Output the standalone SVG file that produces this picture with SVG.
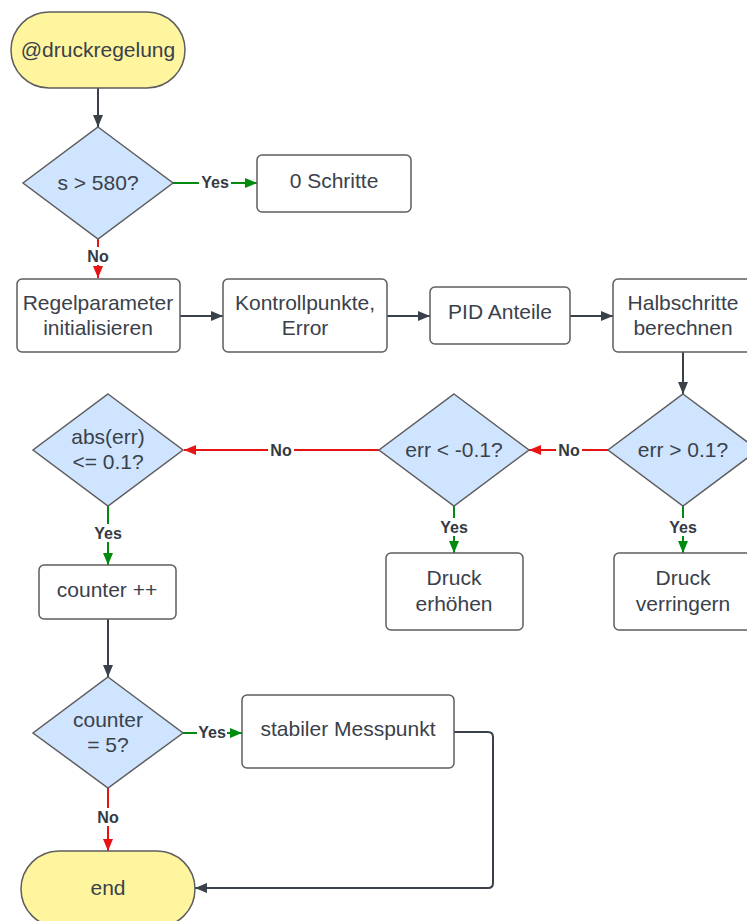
<svg xmlns="http://www.w3.org/2000/svg" width="747" height="921" viewBox="0 0 747 921">
<style>
.term{fill:#fff59f;stroke:#5e5e5e;stroke-width:1.5}
.dec{fill:#cfe4ff;stroke:#5e5e5e;stroke-width:1.5}
.box{fill:#ffffff;stroke:#5e5e5e;stroke-width:1.5}
.t{font-family:"Liberation Sans",Arial,sans-serif;font-size:21px;fill:#3a414a;text-anchor:middle}
.lbl{font-family:"Liberation Sans",Arial,sans-serif;font-size:16px;font-weight:bold;fill:#333a44;text-anchor:middle}
.c{fill:none;stroke:#3a414a;stroke-width:2}
.g{fill:none;stroke:#008a0e;stroke-width:2}
.r{fill:none;stroke:#e81313;stroke-width:2}
.bg{fill:#ffffff}
</style>
<defs>
<marker id="ad" markerWidth="12" markerHeight="10" refX="12" refY="5" orient="auto" markerUnits="userSpaceOnUse"><path d="M0,0 L12,5 L0,10 Z" fill="#3a414a"/></marker>
<marker id="ag" markerWidth="12" markerHeight="10" refX="12" refY="5" orient="auto" markerUnits="userSpaceOnUse"><path d="M0,0 L12,5 L0,10 Z" fill="#008a0e"/></marker>
<marker id="ar" markerWidth="12" markerHeight="10" refX="12" refY="5" orient="auto" markerUnits="userSpaceOnUse"><path d="M0,0 L12,5 L0,10 Z" fill="#e81313"/></marker>
</defs>
<rect width="747" height="921" fill="#ffffff"/>
<g id="connectors">
<path class="c" d="M98,88 V127" marker-end="url(#ad)"/>
<path class="g" d="M173,183 H257" marker-end="url(#ag)"/>
<path class="r" d="M98,239 V278" marker-end="url(#ar)"/>
<path class="c" d="M180,316 H223" marker-end="url(#ad)"/>
<path class="c" d="M387,316 H430" marker-end="url(#ad)"/>
<path class="c" d="M570,316 H613" marker-end="url(#ad)"/>
<path class="c" d="M683,352 V394" marker-end="url(#ad)"/>
<path class="r" d="M608,450 H529" marker-end="url(#ar)"/>
<path class="g" d="M683,506 V553" marker-end="url(#ag)"/>
<path class="r" d="M379,450 H184" marker-end="url(#ar)"/>
<path class="g" d="M454,506 V553" marker-end="url(#ag)"/>
<path class="g" d="M108,506 V565" marker-end="url(#ag)"/>
<path class="c" d="M108,619 V677" marker-end="url(#ad)"/>
<path class="g" d="M183,733 H242" marker-end="url(#ag)"/>
<path class="r" d="M108,788 V851" marker-end="url(#ar)"/>
<path class="c" d="M454,732 H488 Q493,732 493,737 V883 Q493,888 488,888 H195" marker-end="url(#ad)"/>
<rect class="bg" x="199" y="173" width="32" height="18"/>
<text class="lbl" x="215" y="188">Yes</text>
<rect class="bg" x="85" y="247" width="26" height="18"/>
<text class="lbl" x="98" y="262">No</text>
<rect class="bg" x="556" y="441" width="26" height="18"/>
<text class="lbl" x="569" y="456">No</text>
<rect class="bg" x="268" y="441" width="26" height="18"/>
<text class="lbl" x="281" y="456">No</text>
<rect class="bg" x="667" y="518" width="32" height="18"/>
<text class="lbl" x="683" y="533">Yes</text>
<rect class="bg" x="438" y="518" width="32" height="18"/>
<text class="lbl" x="454" y="533">Yes</text>
<rect class="bg" x="92" y="524" width="32" height="18"/>
<text class="lbl" x="108" y="539">Yes</text>
<rect class="bg" x="197" y="724" width="30" height="18"/>
<text class="lbl" x="212" y="738">Yes</text>
<rect class="bg" x="95" y="808" width="26" height="18"/>
<text class="lbl" x="108" y="823">No</text>
</g>
<g id="start">
<rect class="term" x="11" y="12" width="174" height="76" rx="38" ry="38"/>
<text class="t" x="98" y="57">@druckregelung</text>
</g>
<g id="d_s580">
<polygon class="dec" points="98,127 173,183 98,239 23,183"/>
<text class="t" x="98" y="190">s &gt; 580?</text>
</g>
<g id="n_0schritte">
<rect class="box" x="257" y="155" width="154" height="57" rx="5"/>
<text class="t" x="334" y="188">0 Schritte</text>
</g>
<g id="n_regel">
<rect class="box" x="17" y="279" width="163" height="73" rx="5"/>
<text class="t" x="98" y="310">Regelparameter</text>
<text class="t" x="98" y="335">initialisieren</text>
</g>
<g id="n_kontroll">
<rect class="box" x="223" y="279" width="164" height="73" rx="5"/>
<text class="t" x="305" y="310">Kontrollpunkte,</text>
<text class="t" x="305" y="335">Error</text>
</g>
<g id="n_pid">
<rect class="box" x="430" y="287" width="140" height="57" rx="5"/>
<text class="t" x="500" y="319">PID Anteile</text>
</g>
<g id="n_halb">
<rect class="box" x="613" y="279" width="140" height="73" rx="5"/>
<text class="t" x="683" y="310">Halbschritte</text>
<text class="t" x="683" y="335">berechnen</text>
</g>
<g id="d_errgt">
<polygon class="dec" points="683,394 758,450 683,506 608,450"/>
<text class="t" x="683" y="457">err &gt; 0.1?</text>
</g>
<g id="d_errlt">
<polygon class="dec" points="454,394 529,450 454,506 379,450"/>
<text class="t" x="454" y="457">err &lt; -0.1?</text>
</g>
<g id="d_abs">
<polygon class="dec" points="108,394 183,450 108,506 33,450"/>
<text class="t" x="108" y="444">abs(err)</text>
<text class="t" x="108" y="469">&lt;= 0.1?</text>
</g>
<g id="n_verringern">
<rect class="box" x="614" y="553" width="138" height="77" rx="5"/>
<text class="t" x="683" y="585">Druck</text>
<text class="t" x="683" y="611">verringern</text>
</g>
<g id="n_erhoehen">
<rect class="box" x="386" y="553" width="137" height="77" rx="5"/>
<text class="t" x="454" y="585">Druck</text>
<text class="t" x="454" y="611">erhöhen</text>
</g>
<g id="n_counter">
<rect class="box" x="39" y="565" width="137" height="54" rx="5"/>
<text class="t" x="107" y="597">counter ++</text>
</g>
<g id="d_counter5">
<polygon class="dec" points="108,677 183,733 108,788 33,733"/>
<text class="t" x="108" y="727">counter</text>
<text class="t" x="108" y="752">= 5?</text>
</g>
<g id="n_stabil">
<rect class="box" x="242" y="695" width="212" height="73" rx="5"/>
<text class="t" x="348" y="736">stabiler Messpunkt</text>
</g>
<g id="end">
<rect class="term" x="21" y="851" width="174" height="76" rx="38" ry="38"/>
<text class="t" x="108" y="895">end</text>
</g>
</svg>
